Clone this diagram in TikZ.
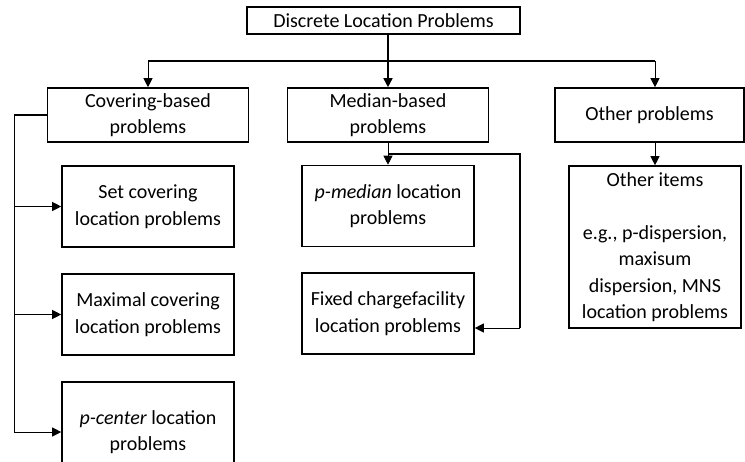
\documentclass[tikz,border=0pt]{standalone}
\usepackage{fontspec}
\setmainfont{Carlito}
\usetikzlibrary{arrows.meta}

\begin{document}
\begin{tikzpicture}[x=1pt, y=-1pt,
font=\fontsize{20}{26.5}\selectfont,
box/.style = {draw, line width=1.6pt, align=center, inner sep=0pt,
  minimum width=172pt, minimum height=81pt},
head/.style = {box, minimum width=201pt, minimum height=54pt},
bar/.style = {line width=1.6pt},
wire/.style = {line width=0.8pt},
tip/.style = {-{Triangle[length=9pt,width=9pt]}}]
\useasboundingbox (0,0) rectangle (745,461);

\node[box, minimum width=273pt, minimum height=27pt] (top) at (383.5,20.5) {Discrete Location Problems};
\node[head] (cov) at (148,115) {Covering-based\\problems};
\node[head] (med) at (388,115) {Median-based\\problems};
\node[head, minimum width=189pt] (oth) at (649.5,115) {Other problems};

\node[box] (set) at (148,206.5) {Set covering\\location problems};
\node[box] (max) at (148,314.5) {Maximal covering\\location problems};
\node[box, minimum height=100pt] (pcen) at (148,432) {\textit{p-center} location\\problems};

\node[box] (pmed) at (388,206) {\textit{p-median} location\\problems};
\node[box] (fix) at (388,313.5) {Fixed chargefacility\\location problems};

\node[box, minimum height=162pt] (items) at (655,247)
  {Other items\\ \mbox{}\\ e.g., p-dispersion,\\ maxisum\\ dispersion, MNS\\ location problems};

\coordinate (fork) at (388,61);
\coordinate (spine) at (14,115);
\coordinate (hook) at (520,154);
\coordinate (fixin) at ([yshift=-14.5pt]fix.east);

\draw[bar] (top.south -| fork) -- (fork);
\draw[bar] (fork -| cov) -- (fork -| items);
\draw[wire, tip] (fork -| cov) -- (cov.north);
\draw[bar, tip] (fork) -- (med.north);
\draw[wire, tip] (fork -| items) -- (oth.north -| items);
\draw[wire, tip] (oth.south -| items) -- (items.north);

\draw[bar] (cov.west) -- (spine);
\draw[wire] (spine) -- (spine |- pcen);
\foreach \n in {set, max, pcen}
  \draw[wire, tip] (spine |- \n) -- (\n.west);

\draw[wire, tip] (med.south) -- (pmed.north);
\draw[bar] (hook -| med) -- (hook) -- (hook |- fixin);
\draw[wire, tip] (hook |- fixin) -- (fixin);
\end{tikzpicture}
\end{document}
